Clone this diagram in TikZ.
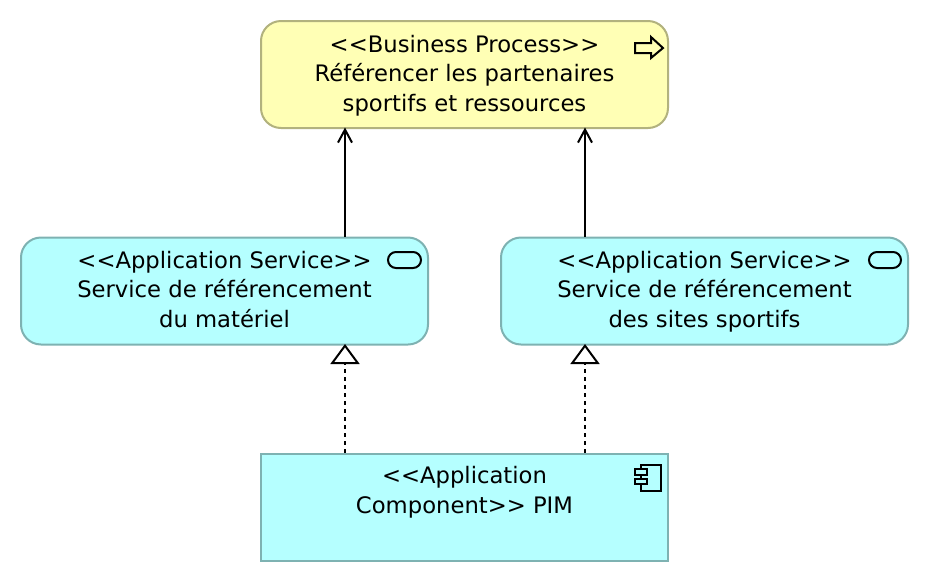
\documentclass[tikz,border=0pt]{standalone}
\usepackage{fontspec}
\setmainfont{DejaVu Sans}
\usetikzlibrary{arrows.meta,calc}
\definecolor{procfill}{HTML}{FFFFB5}
\definecolor{procline}{HTML}{B2B27E}
\definecolor{appfill}{HTML}{B5FFFF}
\definecolor{appline}{HTML}{7EB2B2}
\tikzset{
  x=1pt,y=-1pt,
  elembox/.style={draw,line width=2pt,minimum width=407pt,minimum height=107pt,align=center,inner sep=0pt,
     font=\fontsize{22.7}{29.8}\selectfont},
  procbox/.style={elembox,fill=procfill,draw=procline,rounded corners=20pt},
  svcbox/.style={elembox,fill=appfill,draw=appline,rounded corners=20pt},
  compbox/.style={elembox,fill=appfill,draw=appline},
  serves/.style={line width=2pt,shorten >=-1.5pt,-{Straight Barb[length=13pt,width=14pt,line width=2pt]}},
  realizes/.style={line width=2pt,shorten >=-1.5pt,dash pattern=on 4pt off 4pt,-{Triangle[open,length=20pt,width=29pt,line width=2pt,fill=white]}},
  icon/.style={draw=black,line width=2pt,line join=miter}
}
\begin{document}
\begin{tikzpicture}
\useasboundingbox (0,0) rectangle (930,582);
\node[procbox] (proc) at (464.5,74.5) {\rule{0pt}{19.5pt}<{}<Business Process>{}>\\Référencer les partenaires\\sportifs et ressources};
\node[svcbox] (svcA) at (224.5,291) {\rule{0pt}{18.5pt}<{}<Application Service>{}>\\Service de référencement\\du matériel\vphantom{p}};
\node[svcbox] (svcB) at (704.5,291) {\rule{0pt}{18.5pt}<{}<Application Service>{}>\\Service de référencement\\des sites sportifs};
\node[compbox] (comp) at (464.5,507) {\rule{0pt}{21pt}<{}<Application\\Component>{}> PIM\\[0pt]\strut};
\draw[serves] ([xshift=120.5pt]svcA.north) -- ([xshift=-119.5pt]proc.south);
\draw[serves] ([xshift=-119.5pt]svcB.north) -- ([xshift=120.5pt]proc.south);
\draw[realizes] ([xshift=-119.5pt]comp.north) -- ([xshift=120.5pt]svcA.south);
\draw[realizes] ([xshift=120.5pt]comp.north) -- ([xshift=-119.5pt]svcB.south);
% business process icon
\draw[icon] (635,43) -- (651,43) -- (651,37) -- (663,48) -- (651,58) -- (651,53) -- (635,53) -- cycle;
% application service icons
\draw[icon,rounded corners=8pt] (388,252) rectangle (421,268);
\draw[icon,rounded corners=8pt] (869,252) rectangle (901,268);
% application component icon
\draw[icon] (641,465) rectangle (661,491);
\draw[icon,fill=appfill] (635,469) rectangle (647,475);
\draw[icon,fill=appfill] (635,479) rectangle (647,484);
\end{tikzpicture}
\end{document}
